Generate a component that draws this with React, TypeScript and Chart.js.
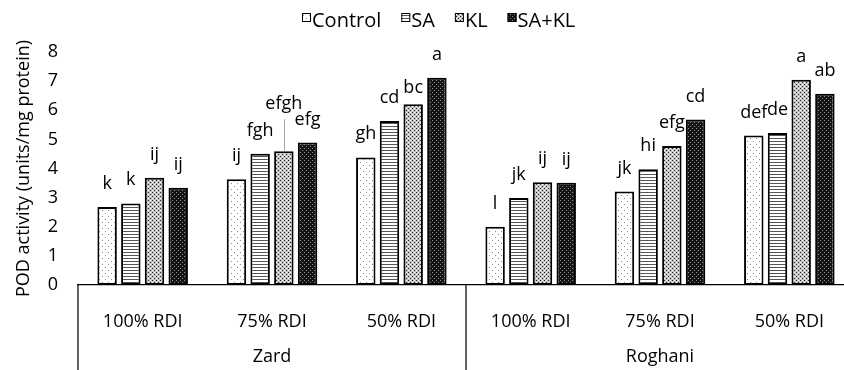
import React, { useEffect, useRef } from "react";
import { Chart, registerables } from "chart.js";
Chart.register(...registerables);

// ---- data ----
const rdiLabels = ["100% RDI", "75% RDI", "50% RDI", "100% RDI", "75% RDI", "50% RDI"];
const cultivars = ["Zard", "Roghani"];
const seriesNames = ["Control", "SA", "KL", "SA+KL"];
const controlValues = [2.68, 3.63, 4.38, 2.0, 3.21, 5.13];
const saValues = [2.8, 4.51, 5.63, 2.99, 3.97, 5.22];
const klValues = [3.68, 4.59, 6.21, 3.53, 4.77, 7.05];
const saKlValues = [3.34, 4.89, 7.12, 3.51, 5.68, 6.57];
const controlLetters = ["k", "ij", "gh", "l", "jk", "def"];
const saLetters = ["k", "fgh", "cd", "jk", "hi", "de"];
const klLetters = ["ij", "efgh", "bc", "ij", "efg", "a"];
const saKlLetters = ["ij", "efg", "a", "ij", "cd", "ab"];
const yTickValues = [0, 1, 2, 3, 4, 5, 6, 7, 8];
const yTitle = "POD activity (units/mg protein)";

const FONT = '"Open Sans", "Noto Sans", sans-serif';

// label nudges (style), keyed dataset:index
const labelNudges: Record<string, { lift: number; leader?: boolean }> = {
  "2:1": { lift: 24, leader: true },
  "2:2": { lift: -7 },
};

function makePattern(w: number, h: number, bg: string, fg: string, pts: number[][], fg2?: string, pts2?: number[][]) {
  const c = document.createElement("canvas");
  c.width = w;
  c.height = h;
  const x = c.getContext("2d")!;
  x.fillStyle = bg;
  x.fillRect(0, 0, w, h);
  x.fillStyle = fg;
  pts.forEach(([a, b, pw = 1, ph = 1]) => x.fillRect(a, b, pw, ph));
  if (fg2 && pts2) {
    x.fillStyle = fg2;
    pts2.forEach(([a, b, pw = 1, ph = 1]) => x.fillRect(a, b, pw, ph));
  }
  return x.createPattern(c, "repeat")!;
}

export default function App() {
  const ref = useRef<HTMLCanvasElement>(null);
  useEffect(() => {
    const canvas = ref.current!;
    const patterns = [
      makePattern(6, 6, "#ffffff", "#8a8a8a", [[0, 0], [3, 3]]),
      makePattern(4, 3, "#ffffff", "#555555", [[0, 0, 4, 1]]),
      makePattern(4, 4, "#c4c4c4", "#202020", [[0, 0], [2, 2]], "#ffffff", [[2, 0], [0, 2]]),
      makePattern(4, 4, "#141414", "#8c8c8c", [[0, 0], [2, 2]]),
    ];
    const seriesValues = [controlValues, saValues, klValues, saKlValues];
    const letters = [controlLetters, saLetters, klLetters, saKlLetters];

    const labelPlugin = {
      id: "letters",
      afterDatasetsDraw(chart: any) {
        const ctx = chart.ctx;
        ctx.save();
        ctx.font = `18px ${FONT}`;
        ctx.fillStyle = "#000";
        ctx.textAlign = "center";
        ctx.textBaseline = "alphabetic";
        chart.data.datasets.forEach((_: any, di: number) => {
          const meta = chart.getDatasetMeta(di);
          meta.data.forEach((bar: any, i: number) => {
            const n = labelNudges[`${di}:${i}`] || { lift: 0 };
            const y = bar.y - 18 - n.lift;
            ctx.fillText(letters[di][i], bar.x, y);
            if (n.leader) {
              ctx.strokeStyle = "#a6a6a6";
              ctx.lineWidth = 1;
              ctx.beginPath();
              ctx.moveTo(Math.round(bar.x) + 0.5, y + 10);
              ctx.lineTo(Math.round(bar.x) + 0.5, bar.y);
              ctx.stroke();
            }
          });
        });
        ctx.restore();
      },
    };

    const axisPlugin = {
      id: "multiAxis",
      afterDraw(chart: any) {
        const ctx = chart.ctx;
        const xs = chart.scales.x;
        const area = chart.chartArea;
        const bottom = chart.height;
        ctx.save();
        ctx.strokeStyle = "#000";
        ctx.lineWidth = 1.25;
        const mid = (xs.getPixelForValue(2) + xs.getPixelForValue(3)) / 2;
        [area.left, mid, area.right].forEach((px: number) => {
          ctx.beginPath();
          ctx.moveTo(px, area.bottom);
          ctx.lineTo(px, bottom);
          ctx.stroke();
        });
        ctx.font = `18px ${FONT}`;
        ctx.fillStyle = "#000";
        ctx.textAlign = "center";
        ctx.textBaseline = "middle";
        cultivars.forEach((c, gi) => {
          const cx = (xs.getPixelForValue(gi * 3) + xs.getPixelForValue(gi * 3 + 2)) / 2;
          ctx.fillText(c, cx, 357);
        });
        ctx.restore();
      },
    };

    const legendPlugin = {
      id: "customLegend",
      afterDraw(chart: any) {
        const ctx = chart.ctx;
        ctx.save();
        ctx.font = `20px ${FONT}`;
        const items = chart.data.datasets.map((ds: any) => ({
          label: ds.label,
          fill: ds.backgroundColor,
          w: ctx.measureText(ds.label).width,
        }));
        const box = 9, gapBox = 1, gapItem = 20;
        const total =
          items.reduce((s: number, it: any) => s + box + gapBox + it.w, 0) + gapItem * (items.length - 1);
        let x = Math.round(438.5 - total / 2);
        ctx.textBaseline = "alphabetic";
        ctx.textAlign = "left";
        items.forEach((it: any) => {
          ctx.fillStyle = it.fill;
          ctx.fillRect(x, 13, box, box);
          ctx.strokeStyle = "#000";
          ctx.lineWidth = 1;
          ctx.strokeRect(x + 0.5, 13.5, box - 1, box - 1);
          ctx.fillStyle = "#000";
          ctx.fillText(it.label, x + box + gapBox, 26.5);
          x += box + gapBox + it.w + gapItem;
        });
        ctx.restore();
      },
    };

    const chart = new Chart(canvas, {
      type: "bar",
      data: {
        labels: rdiLabels,
        datasets: seriesNames.map((name, i) => ({
          label: name,
          data: seriesValues[i],
          backgroundColor: patterns[i] as any,
          borderColor: "#000",
          borderWidth: 2,
          borderSkipped: false,
          barPercentage: 0.82,
          categoryPercentage: 0.733,
        })),
      },
      options: {
        responsive: false,
        maintainAspectRatio: false,
        devicePixelRatio: 1,
        animation: false,
        layout: { padding: { top: 52, left: 0, right: 4, bottom: 0 } },
        plugins: { legend: { display: false }, tooltip: { enabled: false } },
        scales: {
          x: {
            grid: { display: false, drawTicks: false },
            border: { display: true, color: "#000", width: 1.25 },
            ticks: { font: { family: FONT, size: 18 }, color: "#000", padding: 26, maxRotation: 0, autoSkip: false },
            afterFit: (s: any) => {
              s.height = 85;
            },
          },
          y: {
            min: 0,
            max: 8,
            grid: { display: false, drawTicks: false },
            border: { display: false },
            afterBuildTicks: (s: any) => {
              s.ticks = yTickValues.map((v) => ({ value: v }));
            },
            ticks: { font: { family: FONT, size: 18 }, color: "#000", padding: 20 },
            title: {
              display: true,
              text: yTitle,
              font: { family: FONT, size: 18 },
              color: "#000",
              padding: { top: 13, bottom: 0 },
            },
            afterFit: (s: any) => {
              s.width = 78;
            },
          },
        },
      },
      plugins: [labelPlugin, axisPlugin, legendPlugin],
    });
    return () => chart.destroy();
  }, []);

  return (
    <div style={{ position: "fixed", left: 0, top: 0, width: 844, height: 370, overflow: "hidden", background: "#fff" }}>
      <canvas ref={ref} width={858} height={370} style={{ display: "block" }} />
    </div>
  );
}
